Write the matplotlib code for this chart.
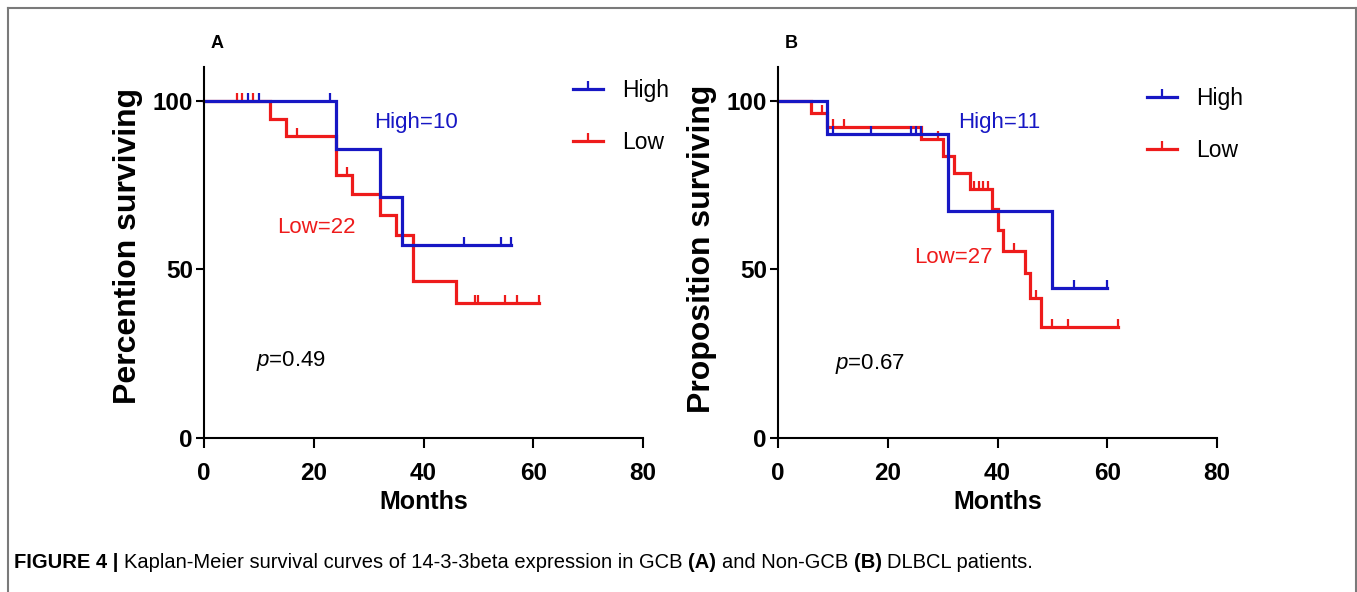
import numpy as np
import matplotlib
matplotlib.use("Agg")
import matplotlib.pyplot as plt
from matplotlib.lines import Line2D
from matplotlib.markers import TICKUP

plt.rcParams['font.family'] = ['Liberation Sans', 'DejaVu Sans']
plt.rcParams['mathtext.fontset'] = 'custom'
plt.rcParams['mathtext.it'] = 'Liberation Sans:italic'
plt.rcParams['mathtext.rm'] = 'Liberation Sans'

# panel A - GCB
a_high_t = [0, 24, 32, 36]
a_high_s = [100, 85.7, 71.4, 57.1]
a_high_cens = [8, 10, 23, 47.3, 54.2, 56]
a_low_t = [0, 12, 15, 24, 27, 32, 35, 38, 46]
a_low_s = [100, 94.7, 89.6, 78.1, 72.2, 66.2, 60.2, 46.5, 39.9]
a_low_cens = [6, 7, 9, 17, 26, 49.3, 50, 54.8, 57, 61]

# panel B - Non-GCB
b_high_t = [0, 9, 31, 50]
b_high_s = [100, 90.0, 67.2, 44.6]
b_high_cens = [10, 17, 24.3, 25.2, 26.1, 54, 60]
b_low_t = [0, 6, 9, 26, 30, 32, 35, 39, 40, 41, 45, 46, 48]
b_low_s = [100, 96.3, 92.3, 88.6, 83.6, 78.6, 73.8, 67.9, 61.7, 55.3, 48.8, 41.4, 32.9]
b_low_cens = [8, 10, 12, 29.2, 35.8, 36.7, 37.4, 38.2, 43, 47, 50, 52.8, 62]

xticks = [0, 20, 40, 60, 80]
yticks = [0, 50, 100]

BLUE = '#1717c4'
RED = '#ee1b1b'

W, H = 1357, 592
fig = plt.figure(figsize=(W/100, H/100), dpi=100)


def km(ax, t, s, cens, color):
    x = list(t) + [cens[-1]]
    y = list(s) + [s[-1]]
    ax.plot(x, y, drawstyle='steps-post', color=color, lw=2.3, clip_on=False,
            solid_joinstyle='miter')
    idx = np.searchsorted(t, cens, side='right') - 1
    cy = np.array(s)[idx]
    ax.plot(cens, cy, ls='none', marker=TICKUP, ms=6, mew=1.6, color=color,
            clip_on=False)


def panel(left, data, ylabel, letter, ann, leg_y, ylab_y):
    ax = fig.add_axes([left, (H-438)/H, 439/W, 371/H])
    (lt, ls, lc), (ht, hs, hc) = data
    km(ax, lt, ls, lc, RED)
    km(ax, ht, hs, hc, BLUE)
    ax.set_xlim(0, 80)
    ax.set_ylim(0, 110)
    ax.set_xticks(xticks)
    ax.set_yticks(yticks)
    for sp in ['top', 'right']:
        ax.spines[sp].set_visible(False)
    for sp in ['left', 'bottom']:
        ax.spines[sp].set_linewidth(1.5)
    ax.tick_params(axis='x', direction='out', length=7, width=1.5, labelsize=17.5, pad=10)
    ax.tick_params(axis='y', direction='out', length=6, width=1.5, labelsize=17.5, pad=2)
    for lab in ax.get_xticklabels() + ax.get_yticklabels():
        lab.set_fontweight('bold')
    ax.set_xlabel('Months', fontsize=18, fontweight='bold')
    ax.xaxis.set_label_coords(0.5, -0.14)
    ax.set_ylabel(ylabel, fontsize=23, fontweight='bold')
    ax.yaxis.set_label_coords(-0.139, ylab_y)

    (hx, hy, htxt), (lx, ly, ltxt), (px, py, ptxt) = ann
    ax.text(hx, hy, htxt, color=BLUE, fontsize=16, ha='center', va='center')
    ax.text(lx, ly, ltxt, color=RED, fontsize=16, ha='center', va='center')
    ax.text(px, py, ptxt, color='black', fontsize=16, ha='center', va='center')

    handles = [Line2D([], [], color=BLUE, lw=2.3, marker=TICKUP, ms=6, mew=1.6),
               Line2D([], [], color=RED, lw=2.3, marker=TICKUP, ms=6, mew=1.6)]
    ax.legend(handles, ['High', 'Low'], loc='upper left', bbox_to_anchor=(0.8405, leg_y),
              frameon=False, fontsize=16.5, handlelength=1.3, handletextpad=0.83,
              labelspacing=1.27, borderpad=0, borderaxespad=0)
    fig.text((left*W + 13)/W, 1 - 43/H, letter, fontsize=13, fontweight='bold',
             ha='center', va='center')
    return ax


panel(204/W, [(a_low_t, a_low_s, a_low_cens), (a_high_t, a_high_s, a_high_cens)],
      'Percention surviving', 'A',
      [(38.6, 93.4, 'High=10'), (20.4, 62.4, 'Low=22'), (15.8, 22.9, '$p$=0.49')],
      0.967, 0.517)
panel(778/W, [(b_low_t, b_low_s, b_low_cens), (b_high_t, b_high_s, b_high_cens)],
      'Proposition surviving', 'B',
      [(40.4, 93.4, 'High=11'), (32.0, 53.5, 'Low=27'), (16.7, 22.0, '$p$=0.67')],
      0.946, 0.51)

# frame around the figure
fc = '#7a7a7a'
fig.add_artist(Line2D([8/W, 8/W], [0, 1 - 8/H], color=fc, lw=1.5))
fig.add_artist(Line2D([8/W, 1355.5/W], [1 - 8/H, 1 - 8/H], color=fc, lw=1.5))
fig.add_artist(Line2D([1355.5/W, 1355.5/W], [0, 1 - 8/H], color=fc, lw=1.5))

# caption with bold parts
segments = [('FIGURE 4 |', 'bold'),
            ('Kaplan-Meier survival curves of 14-3-3beta expression in GCB', 'normal'),
            ('(A)', 'bold'), ('and Non-GCB', 'normal'), ('(B)', 'bold'),
            ('DLBCL patients.', 'normal')]
renderer = fig.canvas.get_renderer()
cap_size = 14.5
probe = fig.text(0, 0, 'a a', fontsize=cap_size)
w1 = probe.get_window_extent(renderer).width
probe.set_text('aa')
gap = w1 - probe.get_window_extent(renderer).width
probe.remove()
x = 14
for txt, wt in segments:
    t = fig.text(x/W, 1 - 563/H, txt, fontsize=cap_size, fontweight=wt,
                 ha='left', va='center')
    x = t.get_window_extent(renderer).x1 + gap

fig.savefig('out.png', dpi=100)
